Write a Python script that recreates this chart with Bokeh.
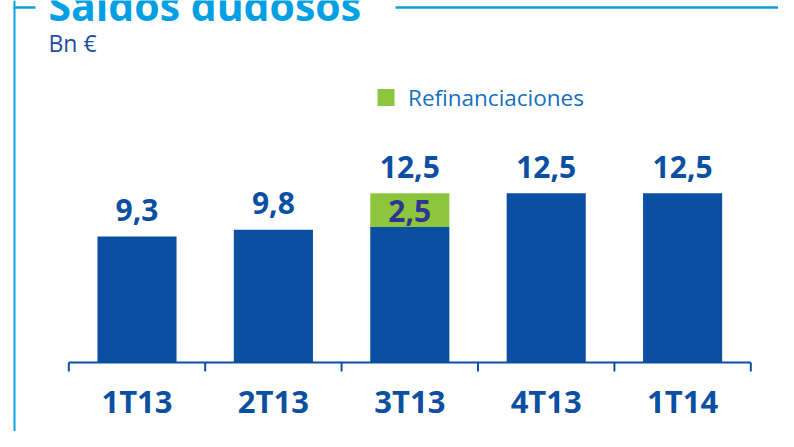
from bokeh.plotting import figure
from bokeh.models import Range1d, ColumnDataSource
from bokeh.core.properties import value
from bokeh.embed import file_html
from bokeh.resources import INLINE

# ---- data ----
categories = ["1T13", "2T13", "3T13", "4T13", "1T14"]
totals = [9.3, 9.8, 12.5, 12.5, 12.5]
refinanciaciones = [0.0, 0.0, 2.5, 0.0, 0.0]
total_labels = ["9,3", "9,8", "12,5", "12,5", "12,5"]
refin_labels = ["", "", "2,5", "", ""]
title_text = "Saldos dudosos"
unit_text = "Bn €"
legend_label = "Refinanciaciones"

BLUE = "#0b4fa3"
GREEN = "#8cc63f"
CYAN = "#0aa0e2"
INDIGO = "#2e3592"
FONT = value("Open Sans")

W, H = 778, 431
# pixel <-> data mapping
X0, XS = 136.5, 136.4      # x pixel of category 0 centre, px per category
Y0, YS = 362.0, 13.55      # y pixel of value 0, px per unit


def px(xp):
    return (xp - X0) / XS


def py(yp):
    return (Y0 - yp) / YS


p = figure(width=W, height=H, output_backend="svg", toolbar_location=None,
           x_axis_location=None, y_axis_location=None,
           x_range=Range1d(px(0), px(W)), y_range=Range1d(py(H), py(0)),
           min_border=0, outline_line_color=None)
p.xgrid.grid_line_color = None
p.ygrid.grid_line_color = None

n = len(categories)
xs = list(range(n))
base = [t - r for t, r in zip(totals, refinanciaciones)]
LABEL_GAP = 26.5 / YS
src = ColumnDataSource(dict(
    x=xs, cat=categories, total=totals, base=base,
    tl=total_labels, rl=refin_labels,
    ty=[t + LABEL_GAP for t in totals],
    rmid=[b + r / 2 - 0.5 / YS for b, r in zip(base, refinanciaciones)]))

# bars
p.vbar(x="x", bottom=0, top="base", width=0.58, source=src,
       fill_color=BLUE, line_color=None)
p.vbar(x="x", bottom="base", top="total", width=0.58, source=src,
       fill_color=GREEN, line_color=None)

# value labels
p.text(x="x", y="ty", text="tl", source=src,
       text_font=FONT, text_font_style="bold", text_font_size="30px",
       text_color=BLUE, text_align="center", text_baseline="middle")
p.text(x="x", y="rmid", text="rl", source=src,
       text_font=FONT, text_font_style="bold", text_font_size="30px",
       text_color=INDIGO, text_align="center", text_baseline="middle")

# category axis
p.segment(x0=[-0.5], y0=[0], x1=[n - 0.5], y1=[0], line_color=BLUE, line_width=2)
bounds = [i - 0.5 for i in range(n + 1)]
p.segment(x0=bounds, y0=[0] * len(bounds), x1=bounds, y1=[py(371)] * len(bounds),
          line_color=BLUE, line_width=2)
p.text(x="x", y=py(400.5), text="cat", source=src,
       text_font=FONT, text_font_style="bold", text_font_size="31px",
       text_color=BLUE, text_align="center", text_baseline="middle")

# legend
p.scatter(x=[px(385.5)], y=[py(97)], marker="square", size=17,
          fill_color=GREEN, line_color=None)
p.text(x=[px(407.5)], y=[py(97)], text=[legend_label], text_font=FONT,
       text_font_size="22.5px", text_color="#1570c0",
       text_align="left", text_baseline="middle")

# frame + title
p.segment(x0=[px(14)], y0=[py(0)], x1=[px(14)], y1=[py(H)],
          line_color=CYAN, line_width=2)
p.segment(x0=[px(13), px(395)], y0=[py(7), py(7)], x1=[px(35), px(W)],
          y1=[py(7), py(7)], line_color=CYAN, line_width=2.5)
p.text(x=[px(48)], y=[py(4)], text=[title_text], text_font=FONT,
       text_font_style="bold", text_font_size="41px", text_color="#00a0e3",
       text_align="left", text_baseline="middle")
p.text(x=[px(48)], y=[py(42.5)], text=[unit_text], text_font=FONT,
       text_font_size="23px", text_color="#1b4e9f",
       text_align="left", text_baseline="middle")

open("out.html", "w").write(file_html(p, INLINE))
